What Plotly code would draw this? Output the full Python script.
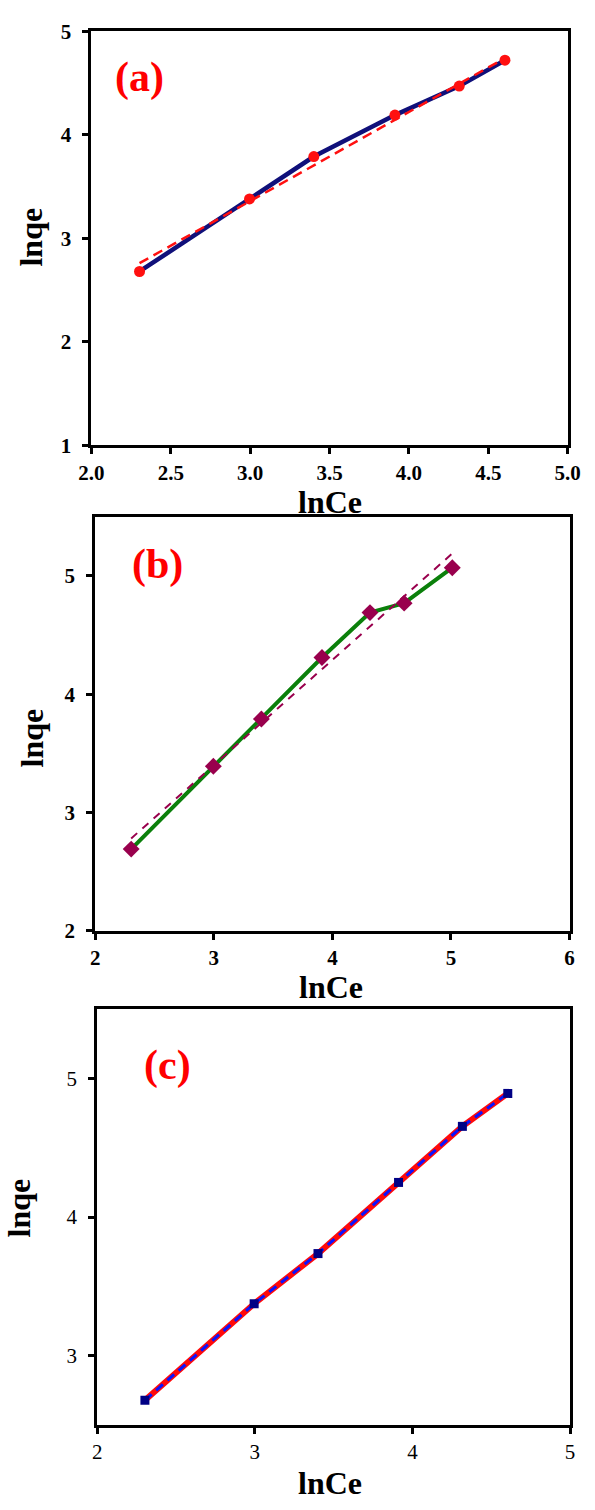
import plotly.graph_objects as go

# ---- data -------------------------------------------------------------
# (a)
lnce_a = [2.303, 2.996, 3.401, 3.912, 4.317, 4.605]
lnqe_a = [2.68, 3.38, 3.79, 4.19, 4.47, 4.72]
fit_x_a = [2.303, 4.605]
fit_y_a = [2.76, 4.74]

# (b)
lnce_b = [2.303, 2.996, 3.401, 3.912, 4.317, 4.605, 5.011]
lnqe_b = [2.69, 3.39, 3.79, 4.31, 4.69, 4.77, 5.07]
fit_x_b = [2.303, 5.011]
fit_y_b = [2.78, 5.19]

# (c)
lnce_c = [2.303, 2.996, 3.401, 3.912, 4.317, 4.605]
lnqe_c = [2.676, 3.374, 3.736, 4.25, 4.655, 4.893]

panel_labels = ["(a)", "(b)", "(c)"]
x_title = "lnCe"
y_title = "lnqe"

# ---- page geometry (pixels) -------------------------------------------
W, H = 595, 1510
SERIF = "Liberation Serif, Times New Roman, Times, serif"


def px_x(v):
    return v / W


def px_y(v):
    return 1 - v / H


def axis(domain, rng, dtick, anchor, size, bold=True, fmt=None, standoff=5, tick0=None):
    d = dict(
        domain=domain,
        range=rng,
        tick0=rng[0] if tick0 is None else tick0,
        dtick=dtick,
        anchor=anchor,
        showline=True,
        linecolor="black",
        linewidth=3,
        mirror=True,
        ticks="outside",
        ticklen=6,
        tickwidth=3,
        tickcolor="black",
        showgrid=False,
        zeroline=False,
        ticklabelstandoff=standoff,
        tickfont=dict(family=SERIF, size=size, color="black",
                      weight="bold" if bold else "normal"),
    )
    if fmt:
        d["tickformat"] = fmt
    return d


fig = go.Figure()

# (a) data line with circles and dashed linear fit
fig.add_trace(go.Scatter(x=lnce_a, y=lnqe_a, mode="lines", xaxis="x", yaxis="y",
                         line=dict(color="#10107a", width=4.5)))
fig.add_trace(go.Scatter(x=fit_x_a, y=fit_y_a, mode="lines", xaxis="x", yaxis="y",
                         line=dict(color="#ff1010", width=2.5, dash="10px,6px")))
fig.add_trace(go.Scatter(x=lnce_a, y=lnqe_a, mode="markers", xaxis="x", yaxis="y",
                         marker=dict(symbol="circle", size=11, color="#ff1010")))

# (b) data line with diamonds and dashed linear fit
fig.add_trace(go.Scatter(x=lnce_b, y=lnqe_b, mode="lines", xaxis="x2", yaxis="y2",
                         line=dict(color="#0b800b", width=4)))
fig.add_trace(go.Scatter(x=fit_x_b, y=fit_y_b, mode="lines", xaxis="x2", yaxis="y2",
                         line=dict(color="#99004d", width=2, dash="8px,7px")))
fig.add_trace(go.Scatter(x=lnce_b, y=lnqe_b, mode="markers", xaxis="x2", yaxis="y2",
                         marker=dict(symbol="diamond", size=13, color="#99004d")))

# (c) thick red line with blue dashes and squares over it
fig.add_trace(go.Scatter(x=lnce_c, y=lnqe_c, mode="lines", xaxis="x3", yaxis="y3",
                         line=dict(color="#ff0a0a", width=6)))
fig.add_trace(go.Scatter(x=lnce_c, y=lnqe_c, mode="lines+markers", xaxis="x3", yaxis="y3",
                         line=dict(color="#0a14ff", width=3, dash="9px,6px"),
                         marker=dict(symbol="square", size=9, color="#000085")))

# ---- panel frames ------------------------------------------------------
dom_x_a = [px_x(82), px_x(580)]
dom_y_a = [px_y(440.5), px_y(19.5)]
dom_x_b = [px_x(86), px_x(582)]
dom_y_b = [px_y(933.5), px_y(513)]
dom_x_c = [px_x(88), px_x(582.5)]
dom_y_c = [px_y(1435.5), px_y(1013.5)]

fig.update_layout(
    width=W, height=H,
    margin=dict(l=0, r=0, t=0, b=0),
    paper_bgcolor="white", plot_bgcolor="white",
    showlegend=False,
    xaxis=axis(dom_x_a, [2, 5], 0.5, "y", 21, fmt=".1f", standoff=0),
    yaxis=axis(dom_y_a, [1, 5], 1, "x", 21, standoff=7),
    xaxis2=axis(dom_x_b, [2, 6], 1, "y2", 21, standoff=0),
    yaxis2=axis(dom_y_b, [2, 5.5], 1, "x2", 21, standoff=7),
    xaxis3=axis(dom_x_c, [2, 5], 1, "y3", 21, bold=False, standoff=0),
    yaxis3=axis(dom_y_c, [2.5, 5.5], 1, "x3", 21, bold=False, standoff=7, tick0=3),
)

# ---- titles and panel labels -------------------------------------------
title_font = dict(family=SERIF, size=32, color="black", weight="bold")
label_font = dict(family=SERIF, size=42, color="#ff0000", weight="bold")

x_title_pos = [(331, 498), (333, 991), (331, 1495)]
y_title_pos = [(19, 229), (20, 738), (6, 1215)]
label_pos = [(132, 67), (151, 561), (162, 1071)]

annotations = []
for (xt, yt), (xy, yy), (xl, yl), lab in zip(x_title_pos, y_title_pos, label_pos, panel_labels):
    annotations.append(dict(text=x_title, x=px_x(xt), y=px_y(yt), xref="paper", yref="paper",
                            xanchor="center", yanchor="middle", showarrow=False, font=title_font))
    annotations.append(dict(text=y_title, x=px_x(xy), y=px_y(yy), xref="paper", yref="paper",
                            xanchor="center", yanchor="middle", showarrow=False,
                            textangle=-90, font=title_font))
    annotations.append(dict(text=lab, x=px_x(xl), y=px_y(yl), xref="paper", yref="paper",
                            xanchor="center", yanchor="middle", showarrow=False, font=label_font))
fig.update_layout(annotations=annotations)

fig.write_html("out.html")
